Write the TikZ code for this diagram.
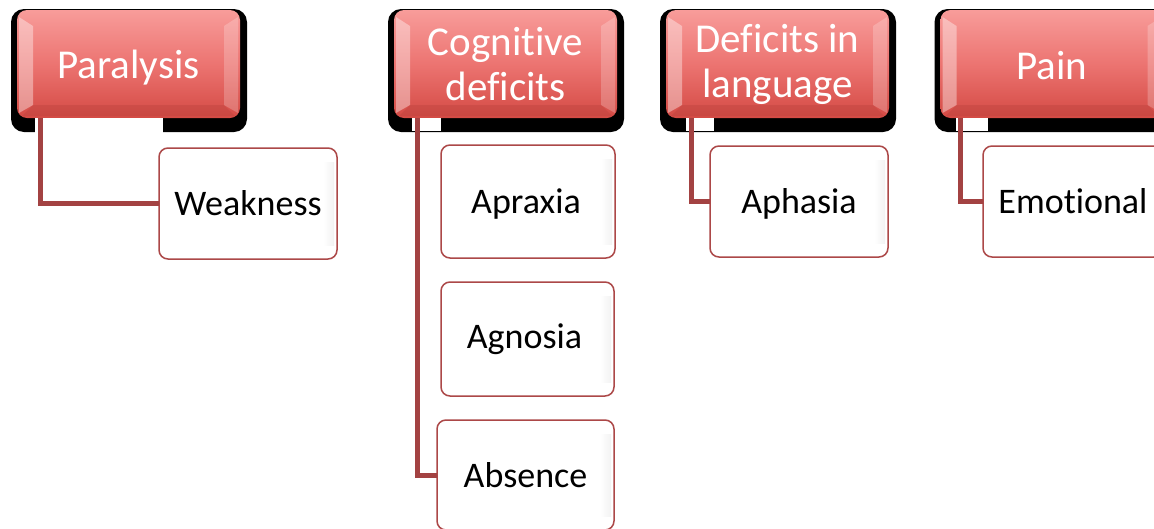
\documentclass[tikz,border=0pt]{standalone}
\usepackage{fontspec}
\setmainfont{Carlito}[Ligatures=NoCommon]
\usetikzlibrary{calc}
\definecolor{hdrtop}{RGB}{248,156,154}
\definecolor{hdrmid}{RGB}{236,116,113}
\definecolor{hdrbot}{RGB}{212,74,68}
\definecolor{conncol}{RGB}{163,66,66}
\definecolor{kidborder}{RGB}{172,72,72}
\tikzset{
  hdrbox/.style={rounded corners=10pt, minimum width=223pt, minimum height=108pt,
    inner sep=0pt, outer sep=0pt, top color=hdrtop, bottom color=hdrbot,
    middle color=hdrmid, text=white, font=\fontsize{41}{45}\selectfont, align=center},
  hdrshadow/.style={fill=black, rounded corners=13pt},
  kidbox/.style={draw=kidborder, line width=1.5pt, rounded corners=9pt, fill=white,
    minimum width=178pt, minimum height=111pt, inner sep=0pt, outer sep=0pt,
    font=\fontsize{36}{40}\selectfont},
  conn/.style={draw=conncol, line width=5pt},
  gapfill/.style={fill=white},
  lbevel/.style={fill=white, fill opacity=0.38},
  rbevel/.style={fill=white, fill opacity=0.22},
  bbevel/.style={fill=hdrbot!80!black, fill opacity=0.25},
  kidstrip/.style={left color=white, right color=black!5},
}
\newcommand\hbevel[1]{%
  \path[lbevel] ($(#1.north west)+(2,7)$) -- ($(#1.north west)+(16,16)$) --
    ($(#1.south west)+(16,-13)$) -- ($(#1.south west)+(2,-5)$) -- cycle;
  \path[rbevel] ($(#1.north east)+(-2,7)$) -- ($(#1.north east)+(-16,16)$) --
    ($(#1.south east)+(-16,-13)$) -- ($(#1.south east)+(-2,-5)$) -- cycle;
  \path[bbevel] ($(#1.south west)+(16,-13)$) -- ($(#1.south east)+(-16,-13)$) --
    ($(#1.south east)+(-5,-2)$) -- ($(#1.south west)+(5,-2)$) -- cycle;
}
\newcommand\hdrnode[3]{%
  \path[hdrshadow] (#2-117.5,9) rectangle (#2+118.5,132);
  \node[hdrbox] (#1) at (#2,64) {#3};
  \hbevel{#1}
}
\newcommand\kidstripe[1]{%
  \path[kidstrip] ($(#1.north east)+(-14,14)$) rectangle ($(#1.south east)+(-3,-14)$);
}
\newcommand\lowered[2]{\raisebox{-#1}[\height][\depth]{#2}}
\begin{document}
\begin{tikzpicture}[x=1pt,y=-1pt]
\useasboundingbox (0,0) rectangle (1154,528);
\clip (0,0) rectangle (1154,528);
\fill[white] (0,0) rectangle (1154,528);

% headers
\hdrnode{P}{128.5}{\lowered{4pt}{Paralysis}}
\hdrnode{C}{505.5}{Cognitive\\deficits}
\hdrnode{D}{777.5}{Deficits in\\language}
\hdrnode{Pn}{1052}{\lowered{2pt}{Pain}}

% children
\node[kidbox] (W)  at (248,203.5) {Weakness};
\node[kidbox, minimum width=174pt, minimum height=113pt] (Ap) at (528,201.5) {\lowered{3pt}{\hspace*{-4pt}Apraxia}};
\node[kidbox, minimum width=173pt, minimum height=114pt] (Ag) at (527.5,339) {\hspace*{-6pt}Agnosia};
\node[kidbox, minimum width=177pt, minimum height=110pt] (Ab) at (525.5,475) {Absence};
\node[kidbox, minimum height=111pt] (Aph) at (799,201.5) {\lowered{2pt}{Aphasia}};
\node[kidbox, minimum width=180pt, minimum height=111pt] (E) at (1073,201.5) {Emotional};
\kidstripe{W}\kidstripe{Ap}\kidstripe{Ag}\kidstripe{Ab}\kidstripe{Aph}

% gaps under headers
\path[gapfill] ($(P.south west)+(18,0)$) rectangle ($(P.south west -| W.west)+(4,15)$);
\path[gapfill] ($(C.south west)+(18,0)$) rectangle ($(C.south west -| Ap.west)+(0,13)$);
\path[gapfill] ($(D.south west)+(20,0)$) rectangle ($(D.south west -| Aph.west)+(4,13)$);
\path[gapfill] ($(Pn.south west)+(15,0)$) rectangle ($(Pn.south west -| E.west)+(5,13)$);

% connectors
\draw[conn] ($(P.south west)+(23,0)$) |- (W.west);
\draw[conn] ($(C.south west)+(23,0)$) |- (Ab.west);
\draw[conn] ($(D.south west)+(25,0)$) |- (Aph.west);
\draw[conn] ($(Pn.south west)+(20,0)$) |- (E.west);
\end{tikzpicture}
\end{document}
